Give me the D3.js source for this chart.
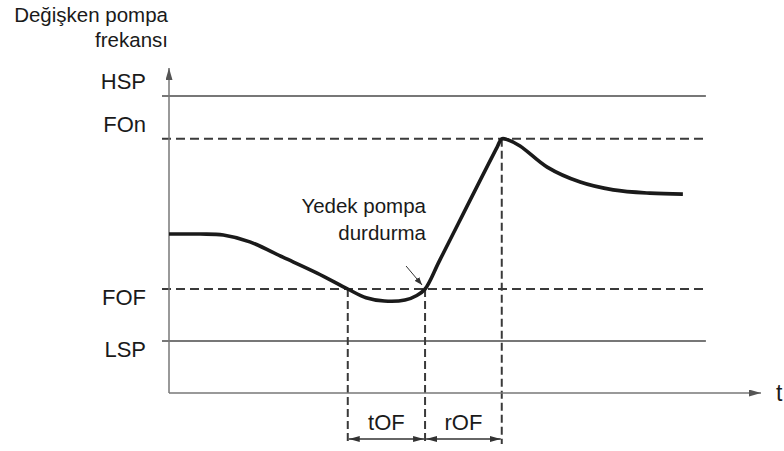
<!DOCTYPE html>
<html>
<head>
<meta charset="utf-8">
<script src="https://cdn.jsdelivr.net/npm/d3@7"></script>
<style>
  body { margin: 0; background: #fff; }
  text { font-family: "Liberation Sans", Arial, sans-serif; fill: #1a1a1a; }
</style>
</head>
<body>
<div id="chart"></div>
<script>
// frequency levels (arbitrary units, 0..100)
const levelNames = ["HSP", "FOn", "FOF", "LSP"];
const levelValues = [91.4, 78.2, 32, 16];
const levelDashed = [false, true, true, false];

// time markers (0..100)
const markerTimes = [30.3, 43.4, 56.4];
const spanLabels = ["tOF", "rOF"];

// pump frequency curve
const curveT = [0, 5.3, 9.2, 13.7, 19.3, 25.1, 30.3, 33.4, 36.5, 40.0, 42.0, 43.4, 45.9, 55.6, 56.4, 57.4, 59.5, 64.1, 69.7, 75.3, 81.5, 87.1];
const curveF = [48.9, 48.9, 48.6, 46.5, 41.8, 36.9, 32, 29.3, 28.3, 28.6, 30.0, 32, 40.9, 75.6, 78.2, 77.9, 76.0, 69.5, 64.9, 62.5, 61.5, 61.2];

const width = 784, height = 451;
const lineEnd = 91; // where the reference lines stop (time units)

const svg = d3.select("#chart")
    .append("svg")
    .attr("width", width)
    .attr("height", height);

const x = d3.scaleLinear().domain([0, 100]).range([169, 759]);
const y = d3.scaleLinear().domain([0, 100]).range([393, 68]);

//arrowheads
const defs = svg.append("defs");
function marker(id, color, w, h) {
    defs.append("marker")
        .attr("id", id)
        .attr("viewBox", `0 0 ${w} ${h}`)
        .attr("refX", w).attr("refY", h / 2)
        .attr("markerWidth", w).attr("markerHeight", h)
        .attr("markerUnits", "userSpaceOnUse")
        .attr("orient", "auto-start-reverse")
        .append("path")
        .attr("d", `M0,0L${w},${h / 2}L0,${h}Z`)
        .attr("fill", color);
}
marker("axisArrow", "#555", 12, 7);
marker("dimArrow", "#333", 11, 6);
marker("ptrArrow", "#333", 8, 6);

//level lines
svg.append("g").selectAll("line")
    .data(levelValues)
    .enter()
    .append("line")
    .attr("x1", x(0) - 7)
    .attr("x2", x(lineEnd))
    .attr("y1", d => y(d))
    .attr("y2", d => y(d))
    .attr("stroke", (d, i) => levelDashed[i] ? "#3a3a3a" : "#4a4a4a")
    .attr("stroke-width", (d, i) => levelDashed[i] ? 2 : 1.4)
    .attr("stroke-dasharray", (d, i) => levelDashed[i] ? "9,5" : null);

//level labels
svg.append("g").selectAll("text")
    .data(levelNames)
    .enter()
    .append("text")
    .attr("x", 146)
    .attr("y", (d, i) => y(levelValues[i]) + (i < 2 ? -7 : 16))
    .attr("text-anchor", "end")
    .attr("font-size", "22px")
    .text(d => d);

//vertical dashed markers
const fof = levelValues[2], fon = levelValues[1];
const markerTop = [fof, fof, fon];
svg.append("g").selectAll("line")
    .data(markerTimes)
    .enter()
    .append("line")
    .attr("x1", d => x(d))
    .attr("x2", d => x(d))
    .attr("y1", (d, i) => y(markerTop[i]))
    .attr("y2", 444)
    .attr("stroke", "#3a3a3a")
    .attr("stroke-width", 2)
    .attr("stroke-dasharray", "8,4");

//axes
svg.append("line")
    .attr("x1", x(0)).attr("y1", y(0))
    .attr("x2", x(0)).attr("y2", y(100))
    .attr("stroke", "#777").attr("stroke-width", 1.5)
    .attr("marker-end", "url(#axisArrow)");
svg.append("line")
    .attr("x1", x(0)).attr("y1", y(0))
    .attr("x2", x(100) + 2).attr("y2", y(0))
    .attr("stroke", "#777").attr("stroke-width", 1.5)
    .attr("marker-end", "url(#axisArrow)");

//dimension arrows
const spans = [[markerTimes[0], markerTimes[1]], [markerTimes[1], markerTimes[2]]];
const dim = svg.append("g");
dim.selectAll("line")
    .data(spans)
    .enter()
    .append("line")
    .attr("x1", d => x(d[0]) + 1)
    .attr("x2", d => x(d[1]) - 1)
    .attr("y1", 439).attr("y2", 439)
    .attr("stroke", "#333").attr("stroke-width", 1.3)
    .attr("marker-start", "url(#dimArrow)")
    .attr("marker-end", "url(#dimArrow)");
dim.selectAll("text")
    .data(spanLabels)
    .enter()
    .append("text")
    .attr("x", (d, i) => (x(spans[i][0]) + x(spans[i][1])) / 2)
    .attr("y", 430)
    .attr("text-anchor", "middle")
    .attr("font-size", "22px")
    .text(d => d);

//curve
const pts = curveT.map((t, i) => [t, curveF[i]]);
svg.append("path")
    .datum(pts)
    .attr("d", d3.line().x(d => x(d[0])).y(d => y(d[1])).curve(d3.curveCatmullRom.alpha(0.5)))
    .attr("fill", "none")
    .attr("stroke", "#1a1a1a")
    .attr("stroke-width", 3.6)
    .attr("stroke-linejoin", "round");

//pointer to stop point
svg.append("line")
    .attr("x1", x(markerTimes[1]) - 19).attr("y1", y(fof) - 23)
    .attr("x2", x(markerTimes[1]) - 3).attr("y2", y(fof) - 4)
    .attr("stroke", "#333").attr("stroke-width", 1)
    .attr("marker-end", "url(#ptrArrow)");

//annotation
const note = svg.append("text")
    .attr("text-anchor", "end")
    .attr("font-size", "20.5px");
note.append("tspan").attr("x", 426).attr("y", 213).text("Yedek pompa");
note.append("tspan").attr("x", 426).attr("y", 240).text("durdurma");

//axis titles
const yt = svg.append("text").attr("font-size", "20.5px").attr("text-anchor", "end");
yt.append("tspan").attr("x", 168).attr("y", 22).text("Değişken pompa");
yt.append("tspan").attr("x", 168).attr("y", 47).text("frekansı");

svg.append("text")
    .attr("x", 776).attr("y", 401)
    .attr("font-size", "23px")
    .text("t");
</script>
</body>
</html>
